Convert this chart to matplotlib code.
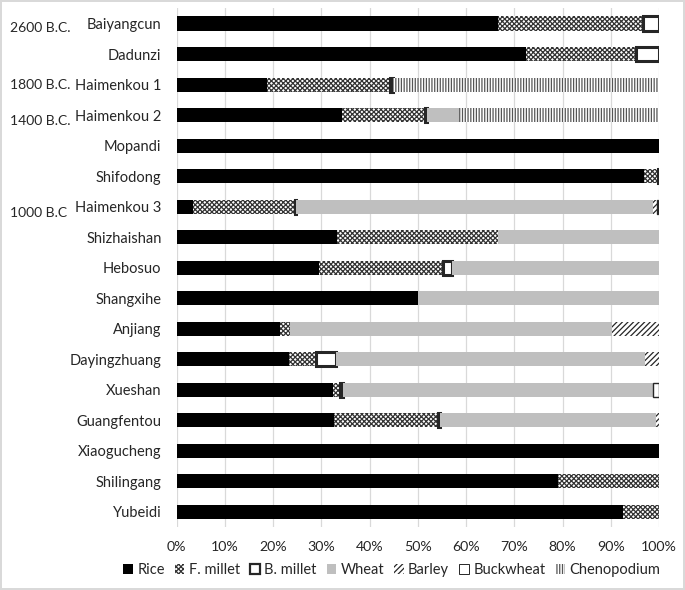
import matplotlib
matplotlib.use("Agg")
import matplotlib.pyplot as plt
from matplotlib.patches import Patch
import numpy as np

plt.rcParams['font.family'] = ['Lato', 'DejaVu Sans']
plt.rcParams['hatch.linewidth'] = 0.9

sites = ["Baiyangcun", "Dadunzi", "Haimenkou 1", "Haimenkou 2", "Mopandi",
         "Shifodong", "Haimenkou 3", "Shizhaishan", "Hebosuo", "Shangxihe",
         "Anjiang", "Dayingzhuang", "Xueshan", "Guangfentou", "Xiaogucheng",
         "Shilingang", "Yubeidi"]

# percentages per crop, one value per site (same order as sites)
rice = [66.7, 72.5, 18.7, 34.3, 100, 96.8, 3.4, 33.2, 29.5, 50.0,
        21.5, 23.2, 32.4, 32.6, 100, 79.1, 92.5]
f_millet = [30.0, 22.8, 25.6, 17.2, 0, 2.9, 21.1, 33.4, 25.8, 0,
            2.0, 5.7, 1.5, 21.6, 0, 20.9, 7.5]
b_millet = [3.3, 4.7, 0.5, 0.5, 0, 0.3, 0.3, 0, 1.7, 0,
            0, 4.1, 0.6, 0.3, 0, 0, 0]
wheat = [0, 0, 0, 6.5, 0, 0, 73.9, 33.4, 43.0, 50.0,
         66.7, 64.2, 64.2, 44.8, 0, 0, 0]
barley = [0, 0, 0, 0, 0, 0, 0.8, 0, 0, 0,
          9.8, 2.8, 0, 0.7, 0, 0, 0]
buckwheat = [0, 0, 0, 0, 0, 0, 0.3, 0, 0, 0,
             0, 0, 1.3, 0, 0, 0, 0]
chenopodium = [0, 0, 55.2, 41.5, 0, 0, 0, 0, 0, 0,
               0, 0, 0, 0, 0, 0, 0]

periods = ["2600 B.C.", "1800 B.C.", "1400 B.C.", "1000 B.C"]
period_pos = [0.15, 2.0, 3.2, 6.2]

# name, values, facecolor, edgecolor, linewidth, hatch
series = [
    ("Rice", rice, "black", "black", 0, None),
    ("F. millet", f_millet, "white", "#333333", 0, "xxxxxxx"),
    ("B. millet", b_millet, "white", "#262626", 2.2, None),
    ("Wheat", wheat, "#bfbfbf", "#bfbfbf", 0, None),
    ("Barley", barley, "white", "#262626", 0, "//////"),
    ("Buckwheat", buckwheat, "white", "#262626", 1.0, None),
    ("Chenopodium", chenopodium, "white", "#555555", 0, "||||||"),
]

fig = plt.figure(figsize=(6.85, 5.9), dpi=100)
fig.patch.set_edgecolor("#d9d9d9")
fig.patch.set_linewidth(1.5)
ax = fig.add_axes([0.258, 0.107, 0.704, 0.879])

y = np.arange(len(sites))
left = np.zeros(len(sites))
handles = []
for name, vals, fc, ec, lw, hatch in series:
    v = np.array(vals, dtype=float)
    m = v > 0
    ax.barh(y[m], v[m], left=left[m], height=0.46, color=fc,
            edgecolor=ec, linewidth=lw, hatch=hatch, zorder=3)
    left += v
    hlw = 1.6 if name == "B. millet" else (0.7 if name == "Buckwheat" else 0)
    handles.append(Patch(facecolor=fc, edgecolor=ec, linewidth=hlw,
                         hatch=hatch, label=name))

ax.set_xlim(0, 100)
ax.set_ylim(len(sites) - 0.5, -0.5)
ax.set_yticks(y)
ax.set_yticklabels(sites, fontsize=10.5, color="#262626")
ax.set_xticks(np.arange(0, 101, 10))
ax.set_xticklabels([f"{t}%" for t in range(0, 101, 10)], fontsize=10.2, color="#262626")
ax.tick_params(axis="y", length=0, pad=11)
ax.tick_params(axis="x", length=0, pad=10)
ax.grid(axis="x", color="#d9d9d9", linewidth=0.9, zorder=0)
for s in ax.spines.values():
    s.set_visible(False)

trans = matplotlib.transforms.blended_transform_factory(fig.transFigure, ax.transData)
for lab, p in zip(periods, period_pos):
    ax.text(0.015, p, lab, transform=trans, ha="left", va="center",
            fontsize=10, color="#262626")

fig.legend(handles=handles, loc="center", bbox_to_anchor=(0.572, 0.034),
           ncol=7, frameon=False, fontsize=10.5, handlelength=0.65,
           handleheight=0.65, handletextpad=0.3, columnspacing=0.7,
           labelcolor="#262626")

fig.savefig("out.png", dpi=100, edgecolor=fig.get_edgecolor())
